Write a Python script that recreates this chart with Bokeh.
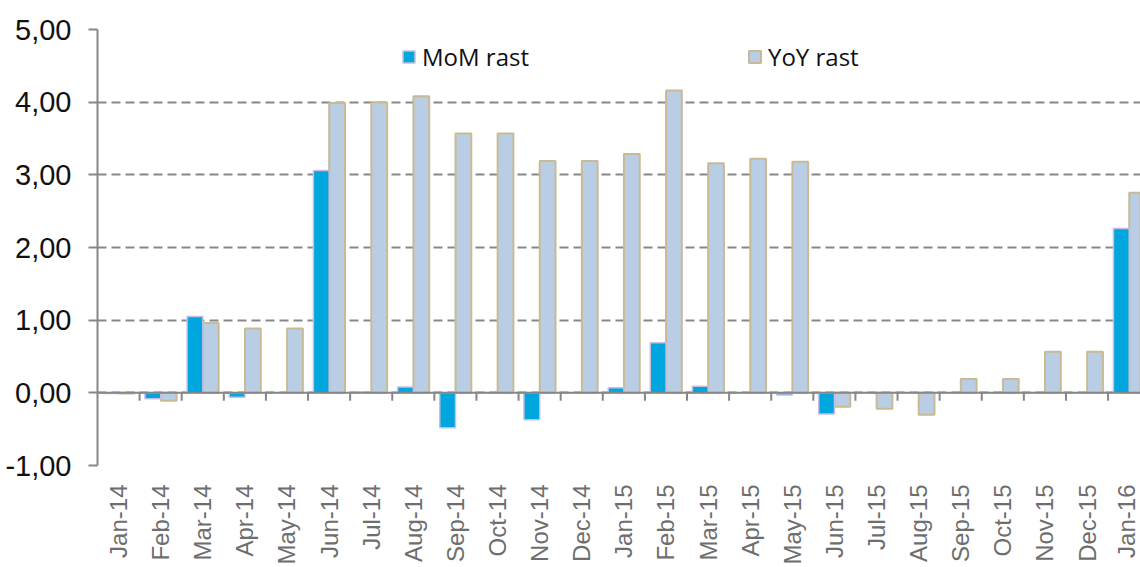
from bokeh.plotting import figure
from bokeh.models import Range1d, FixedTicker, Legend, LegendItem, ColumnDataSource
from bokeh.embed import file_html
from bokeh.resources import INLINE

months = ["Jan-14", "Feb-14", "Mar-14", "Apr-14", "May-14", "Jun-14", "Jul-14", "Aug-14",
          "Sep-14", "Oct-14", "Nov-14", "Dec-14", "Jan-15", "Feb-15", "Mar-15", "Apr-15",
          "May-15", "Jun-15", "Jul-15", "Aug-15", "Sep-15", "Oct-15", "Nov-15", "Dec-15", "Jan-16"]
mom = [-0.01, -0.08, 1.05, -0.06, 0.0, 3.06, 0.01, 0.08, -0.48, 0.0, -0.37, 0.0,
       0.07, 0.69, 0.09, 0.0, -0.03, -0.29, 0.0, 0.0, 0.0, 0.0, 0.0, 0.0, 2.26]
yoy = [-0.01, -0.11, 0.96, 0.885, 0.885, 3.99, 4.0, 4.08, 3.57, 3.57, 3.19, 3.19,
       3.285, 4.16, 3.16, 3.22, 3.18, -0.19, -0.22, -0.30, 0.19, 0.19, 0.565, 0.565, 2.755]
y_ticks = [-1, 0, 1, 2, 3, 4, 5]
y_labels = ["-1,00", "0,00", "1,00", "2,00", "3,00", "4,00", "5,00"]

n = len(months)
idx = list(range(n))

p = figure(width=1140, height=567, output_backend="svg", toolbar_location=None,
           x_range=Range1d(0, 24.77), y_range=Range1d(-1, 5),
           min_border_left=97, min_border_right=0, min_border_top=29, min_border_bottom=102)
p.outline_line_color = None
p.background_fill_color = "white"

GRID = "#878787"

# gridlines
p.xgrid.visible = False
p.ygrid.ticker = FixedTicker(ticks=y_ticks)
p.ygrid.grid_line_color = GRID
p.ygrid.grid_line_dash = "9 5"
p.ygrid.grid_line_width = 2

# y axis
p.yaxis.ticker = FixedTicker(ticks=y_ticks)
p.yaxis.major_label_overrides = {t: l for t, l in zip(y_ticks, y_labels)}
p.yaxis.axis_line_color = GRID
p.yaxis.axis_line_width = 2
p.yaxis.major_tick_line_color = GRID
p.yaxis.major_tick_line_width = 2
p.yaxis.major_tick_out = 9
p.yaxis.major_tick_in = 0
p.yaxis.minor_tick_line_color = None
p.yaxis.major_label_text_font = "Liberation Sans"
p.yaxis.major_label_text_font_size = "29px"
p.yaxis.major_label_text_color = "#111111"
p.yaxis.major_label_standoff = 17

# x axis (labels only)
centers = [i + 0.5 for i in idx]
p.xaxis.ticker = FixedTicker(ticks=centers)
p.xaxis.major_label_overrides = {c: m for c, m in zip(centers, months)}
p.xaxis.major_label_orientation = 1.5708
p.xaxis.axis_line_color = None
p.xaxis.major_tick_line_color = None
p.xaxis.minor_tick_line_color = None
p.xaxis.major_label_text_font = "Liberation Sans"
p.xaxis.major_label_text_font_size = "24px"
p.xaxis.major_label_text_color = "#6e6e6e"
p.xaxis.major_label_standoff = 13

src = ColumnDataSource(dict(x_mom=[i + 0.315 for i in idx], x_yoy=[i + 0.69 for i in idx],
                            mom=mom, yoy=yoy))

r_yoy = p.vbar(x="x_yoy", top="yoy", bottom=0, width=0.375, source=src,
               fill_color="#b9cde4", line_color="#c8bb94", line_width=2)
r_mom = p.vbar(x="x_mom", top="mom", bottom=0, width=0.375, source=src,
               fill_color="#00a6de", line_color="#cbbde0", line_width=1.5)

# zero line with category-boundary ticks
p.segment(x0=0, y0=0, x1=n, y1=0, line_color=GRID, line_width=2)
p.segment(x0=idx[1:] + [n], y0=[0] * n, x1=idx[1:] + [n], y1=[-0.11] * n,
          line_color=GRID, line_width=2)

legend = Legend(items=[LegendItem(label="MoM rast", renderers=[r_mom]),
                       LegendItem(label="YoY rast", renderers=[r_yoy])],
                orientation="horizontal", location=(304, 392),
                spacing=218, padding=0, margin=0, glyph_width=15, glyph_height=15,
                label_standoff=6, label_text_font="Open Sans", label_text_font_size="24px",
                label_text_color="#111111", border_line_color=None,
                background_fill_alpha=0)
p.add_layout(legend, "center")

open("out.html", "w").write(file_html(p, INLINE))
